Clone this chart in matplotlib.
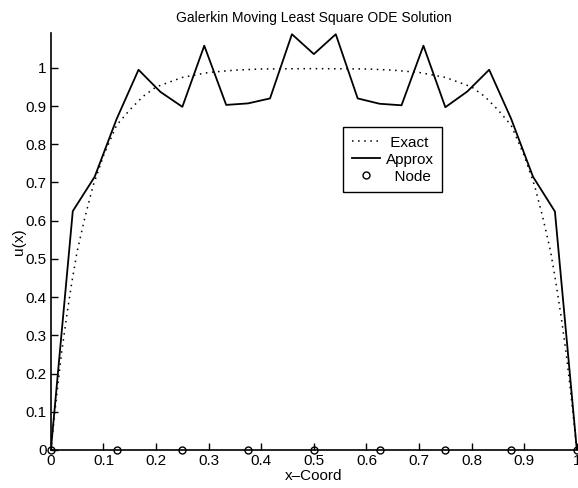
import numpy as np
from matplotlib import pyplot as plt

plt.rcParams['font.family'] = ['Liberation Sans', 'DejaVu Sans']

# exact solution
x_exact = [0, 0.01, 0.02, 0.03, 0.04, 0.05, 0.065, 0.08, 0.1, 0.125, 0.15, 0.175,
           0.2, 0.25, 0.3, 0.35, 0.4, 0.5, 0.6, 0.65, 0.7, 0.75, 0.8, 0.825,
           0.85, 0.875, 0.9, 0.92, 0.935, 0.95, 0.96, 0.97, 0.98, 0.99, 1.0]
u_exact = [0, 0.13, 0.25, 0.35, 0.44, 0.52, 0.61, 0.69, 0.77, 0.85, 0.89, 0.925,
           0.95, 0.975, 0.988, 0.994, 0.997, 0.998, 0.997, 0.994, 0.988, 0.975, 0.95, 0.925,
           0.89, 0.85, 0.77, 0.69, 0.61, 0.52, 0.44, 0.35, 0.25, 0.13, 0]

# Galerkin MLS approximation (25 sample points)
x_approx = [k / 24 for k in range(25)]
u_approx = [0, 0.625, 0.715, 0.866, 0.995, 0.937, 0.898, 1.058, 0.903, 0.907,
            0.920, 1.088, 1.036, 1.088, 0.920, 0.906, 0.902, 1.058, 0.897, 0.938,
            0.995, 0.867, 0.715, 0.624, 0]

# nodes
x_nodes = [0, 0.125, 0.25, 0.375, 0.5, 0.625, 0.75, 0.875, 1.0]
u_nodes = [0, 0, 0, 0, 0, 0, 0, 0, 0]

fig = plt.figure(figsize=(5.78, 4.88), dpi=100)
ax = fig.add_axes([0.088, 0.078, 0.91, 0.855])

ax.plot(x_exact, u_exact, color='black', linestyle=(0, (1, 3)), linewidth=1.1, label=' Exact')
ax.plot(x_approx, u_approx, color='black', linestyle='-', linewidth=1.3, label='Approx')
ax.plot(x_nodes, u_nodes, color='black', linestyle='none', marker='o', markersize=5,
        markerfacecolor='none', markeredgewidth=1.0, label='  Node', clip_on=False)

ax.set_xlim(0, 1)
ax.set_ylim(0, 1.092)
ax.set_xticks(np.arange(0, 1.01, 0.1))
ax.set_xticklabels(['0', '0.1', '0.2', '0.3', '0.4', '0.5', '0.6', '0.7', '0.8', '0.9', '1'])
ax.set_yticks(np.arange(0, 1.01, 0.1))
ax.set_yticklabels(['0', '0.1', '0.2', '0.3', '0.4', '0.5', '0.6', '0.7', '0.8', '0.9', '1'])
ax.tick_params(direction='in', length=5, width=1, labelsize=11, pad=3)
for s in ['top', 'right']:
    ax.spines[s].set_visible(False)
for s in ['left', 'bottom']:
    ax.spines[s].set_linewidth(1.2)

ax.set_xlabel('x–Coord', fontsize=11, labelpad=1)
ax.set_ylabel('u(x)', fontsize=11, labelpad=0)
ax.set_title('Galerkin Moving Least Square ODE Solution', fontsize=10, pad=8)

leg = ax.legend(loc='upper left', bbox_to_anchor=(0.5557, 0.7733), borderaxespad=0,
                fancybox=False, edgecolor='black', framealpha=1, fontsize=11,
                handlelength=1.85, borderpad=0.55, labelspacing=0.2, handletextpad=0.4)
leg.get_frame().set_linewidth(1.0)

fig.savefig('out.png', dpi=100)
